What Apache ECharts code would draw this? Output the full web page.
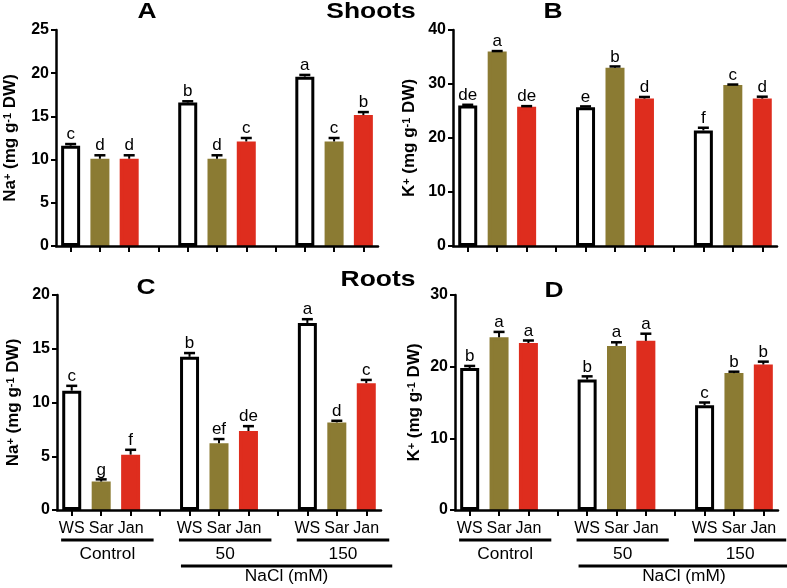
<!DOCTYPE html>
<html>
<head>
<meta charset="utf-8">
<script src="https://cdn.jsdelivr.net/npm/echarts@6/dist/echarts.min.js"></script>
<style>
  html, body { margin: 0; padding: 0; background: #fff; }
  #main { width: 787px; height: 588px; }
</style>
</head>
<body>
<div id="main"></div>
<script>
// x slots: three genotypes per treatment, with an empty slot between groups
var categories = ['WS', 'Sar', 'Jan', '', 'WS', 'Sar', 'Jan', '', 'WS', 'Sar', 'Jan'];
var genotypes = ['WS', 'Sar', 'Jan'];
var treatments = ['Control', '50', '150'];

// values in order: Control WS/Sar/Jan, 50 WS/Sar/Jan, 150 WS/Sar/Jan
var naShootMean = [11.6, 10.1, 10.1, 16.6, 10.1, 12.1, 19.6, 12.1, 15.15];
var naShootErr = [0.2, 0.4, 0.4, 0.15, 0.4, 0.4, 0.2, 0.4, 0.35];
var naShootLetters = ['c', 'd', 'd', 'b', 'd', 'c', 'a', 'c', 'b'];

var kShootMean = [26.0, 36.0, 25.8, 25.7, 33.0, 27.3, 21.4, 29.8, 27.3];
var kShootErr = [0.15, 0.1, 0.1, 0.15, 0.25, 0.3, 0.5, 0.1, 0.35];
var kShootLetters = ['de', 'a', 'de', 'e', 'b', 'd', 'f', 'c', 'd'];

var naRootMean = [11.1, 2.65, 5.15, 14.25, 6.2, 7.35, 17.4, 8.15, 11.8];
var naRootErr = [0.45, 0.2, 0.45, 0.35, 0.4, 0.45, 0.35, 0.15, 0.3];
var naRootLetters = ['c', 'g', 'f', 'b', 'ef', 'de', 'a', 'd', 'c'];

var kRootMean = [19.8, 24.1, 23.3, 18.2, 22.9, 23.6, 14.6, 19.1, 20.3];
var kRootErr = [0.3, 0.75, 0.35, 0.45, 0.5, 1.0, 0.4, 0.2, 0.4];
var kRootLetters = ['b', 'a', 'a', 'b', 'a', 'a', 'c', 'b', 'b'];

var yMaxes = [25, 40, 20, 30];
var yIntervals = [5, 10, 5, 10];

var FONT = '"Liberation Sans", Arial, sans-serif';
var barStyles = {
    WS: { color: '#ffffff', borderColor: '#000000', borderWidth: 3 },
    Sar: { color: '#8b7b33', borderColor: '#8b7b33', borderWidth: 3.5 },
    Jan: { color: '#de2d1e', borderColor: '#de2d1e', borderWidth: 3.5 }
};

var panels = [
    { mean: naShootMean, err: naShootErr, letters: naShootLetters, ion: 'Na', grid: { left: 56, top: 30, width: 322, height: 216 }, nameGap: 37, labels: false },
    { mean: kShootMean, err: kShootErr, letters: kShootLetters, ion: 'K', grid: { left: 453, top: 30, width: 324, height: 216 }, nameGap: 35, labels: false },
    { mean: naRootMean, err: naRootErr, letters: naRootLetters, ion: 'Na', grid: { left: 57, top: 295, width: 324, height: 215 }, nameGap: 35, labels: true },
    { mean: kRootMean, err: kRootErr, letters: kRootLetters, ion: 'K', grid: { left: 455, top: 295, width: 323, height: 215 }, nameGap: 32, labels: true }
];

function slotOf(i) { return i + Math.floor(i / 3); }

function errRenderer(letters) {
    return function (params, api) {
        var slot = api.value(0), m = api.value(1), e = api.value(2);
        var top = api.coord([slot, m + e]);
        var base = api.coord([slot, m]);
        var hw = 5.5;
        return {
            type: 'group',
            children: [
                { type: 'line', shape: { x1: top[0], y1: base[1], x2: top[0], y2: top[1] }, style: { stroke: '#000', lineWidth: 2 } },
                { type: 'line', shape: { x1: top[0] - hw, y1: top[1], x2: top[0] + hw, y2: top[1] }, style: { stroke: '#000', lineWidth: 2.5 } },
                { type: 'text', x: top[0], y: top[1] - 1,
                  style: { text: letters[params.dataIndex], font: '17px ' + FONT, fill: '#000',
                           textAlign: 'center', textVerticalAlign: 'bottom', align: 'center', verticalAlign: 'bottom' } }
            ]
        };
    };
}

var grids = [], xAxes = [], yAxes = [], series = [];
panels.forEach(function (p, k) {
    var g = p.grid;
    g.outerBoundsMode = 'none';
    grids.push(g);
    xAxes.push({
        type: 'category', gridIndex: k, data: categories, z: 3,
        axisLine: { show: true, lineStyle: { color: '#000', width: 2.5 } },
        axisTick: { show: true, alignWithLabel: true, length: 6, lineStyle: { color: '#000', width: 2 } },
        axisLabel: { show: p.labels, interval: 0, color: '#000', fontSize: 16, fontFamily: FONT, margin: 11 },
        splitLine: { show: false }
    });
    yAxes.push({
        type: 'value', gridIndex: k, min: 0, max: yMaxes[k], interval: yIntervals[k],
        name: '{b|' + p.ion + '}{s|+}{b| (mg g}{s|-1}{b| DW)}',
        nameLocation: 'middle', nameRotate: 90, nameGap: p.nameGap,
        nameTextStyle: {
            rich: {
                b: { fontSize: 17, fontWeight: 'bold', fontFamily: FONT, color: '#000' },
                s: { fontSize: 11, fontWeight: 'bold', fontFamily: FONT, color: '#000', verticalAlign: 'top' }
            }
        },
        axisLine: { show: true, lineStyle: { color: '#000', width: 2.5 } },
        axisTick: { show: true, length: 5, lineStyle: { color: '#000', width: 2 } },
        axisLabel: { color: '#000', fontSize: 16, fontWeight: 'bold', fontFamily: FONT, margin: 7 },
        splitLine: { show: false }
    });

    var barData = categories.map(function () { return '-'; });
    var errData = [];
    p.mean.forEach(function (v, i) {
        var st = barStyles[genotypes[i % 3]];
        barData[slotOf(i)] = { value: v, itemStyle: st };
        errData.push([slotOf(i), v, p.err[i]]);
    });
    series.push({
        type: 'bar', xAxisIndex: k, yAxisIndex: k, barWidth: 19, z: 2,
        data: barData, animation: false, silent: true
    });
    series.push({
        type: 'custom', xAxisIndex: k, yAxisIndex: k, z: 4,
        renderItem: errRenderer(p.letters), data: errData, animation: false, silent: true
    });
});

var chart = echarts.init(document.getElementById('main'), null, { renderer: 'canvas' });
chart.setOption({
    animation: false,
    grid: grids,
    xAxis: xAxes,
    yAxis: yAxes,
    series: series
});

// titles and treatment brackets under the bottom panels
function titleText(t, x, y) {
    return { type: 'text', x: x, y: y, scaleX: 1.2, z: 10,
        style: { text: t, font: 'bold 22px ' + FONT, fill: '#000',
                 textAlign: 'center', textVerticalAlign: 'middle', align: 'center', verticalAlign: 'middle' } };
}
function plainText(t, x, y) {
    return { type: 'text', x: x, y: y, z: 10, scaleX: 1.08,
        style: { text: t, font: '16px ' + FONT, fill: '#000',
                 textAlign: 'center', textVerticalAlign: 'middle', align: 'center', verticalAlign: 'middle' } };
}
function hline(x1, x2, y) {
    return { type: 'line', z: 10, shape: { x1: x1, y1: y, x2: x2, y2: y }, style: { stroke: '#000', lineWidth: 3 } };
}

var graphics = [
    titleText('A', 147, 12), titleText('Shoots', 371, 12), titleText('B', 553, 12),
    titleText('C', 146, 288), titleText('Roots', 378, 280), titleText('D', 554, 291)
];
[2, 3].forEach(function (k) {
    var band = panels[k].grid.width / categories.length;
    var pts = [];
    treatments.forEach(function (t, j) {
        var x0 = chart.convertToPixel({ xAxisIndex: k }, j * 4) - 0.36 * band;
        var x1 = chart.convertToPixel({ xAxisIndex: k }, j * 4 + 2) + 0.78 * band;
        pts.push([x0, x1]);
        graphics.push(hline(x0, x1, 540));
        graphics.push(plainText(t, (x0 + x1) / 2, 555));
    });
    var nx0 = pts[1][0] + 2, nx1 = pts[2][1] + 3;
    graphics.push(hline(nx0, nx1, 566));
    graphics.push(plainText('NaCl (mM)', (nx0 + nx1) / 2, 577));
});
chart.setOption({ graphic: graphics });
</script>
</body>
</html>
